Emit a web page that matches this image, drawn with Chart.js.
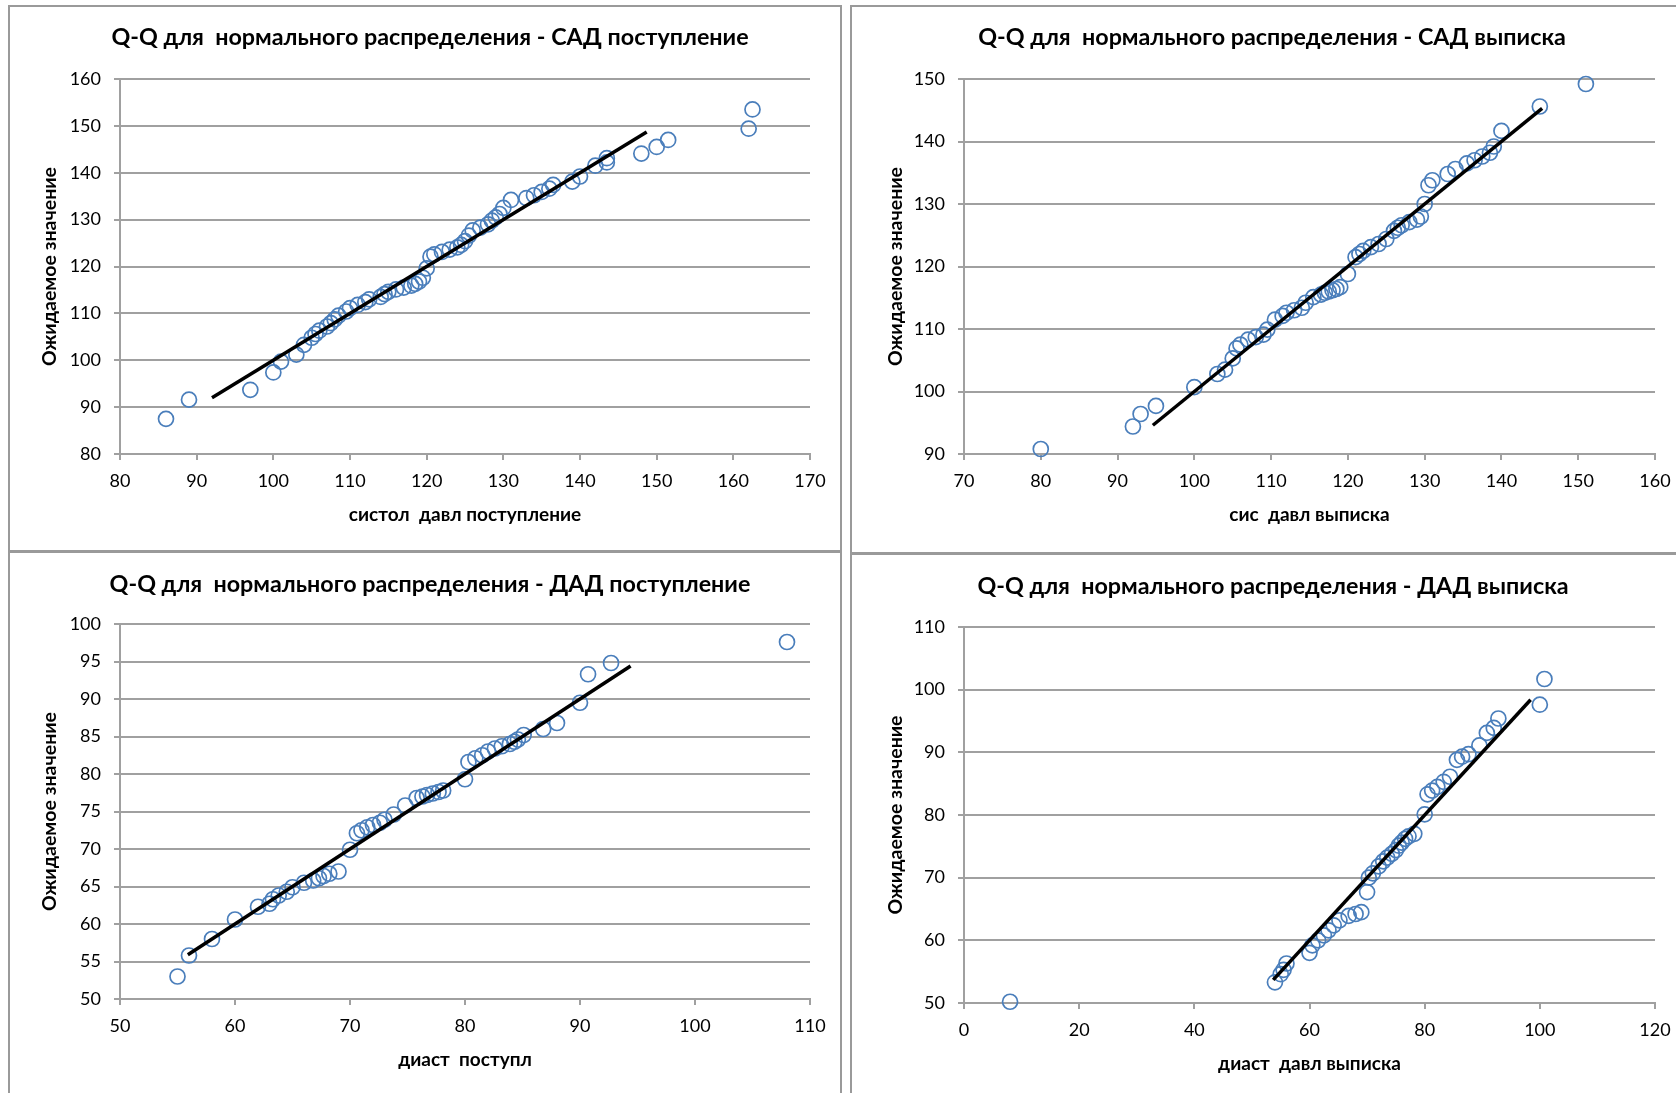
<!DOCTYPE html>
<html>
<head>
<meta charset="utf-8">
<script src="https://cdn.jsdelivr.net/npm/chart.js@4.4.1/dist/chart.umd.min.js"></script>
<style>
  html, body { margin: 0; padding: 0; background: #fff; }
  body { position: relative; width: 1676px; height: 1093px; overflow: hidden; }
  .frame { position: absolute; border: 2px solid #9a9a9a; box-sizing: border-box; background: #fff; }
  canvas { position: absolute; }
</style>
</head>
<body>
<div class="frame" style="left:8px;top:5px;width:834px;height:547px"></div>
<div class="frame" style="left:850px;top:5px;width:840px;height:549px"></div>
<div class="frame" style="left:8px;top:551px;width:834px;height:600px"></div>
<div class="frame" style="left:850px;top:553px;width:840px;height:600px"></div>

<canvas id="sadIn" width="830" height="531" style="left:10px;top:3px"></canvas>
<canvas id="sadOut" width="831" height="531" style="left:854px;top:3px"></canvas>
<canvas id="dadIn" width="830" height="531" style="left:10px;top:548px"></canvas>
<canvas id="dadOut" width="831" height="532" style="left:854px;top:551px"></canvas>

<script>
// САД поступление: observed values (sorted) and expected normal quantiles
const sadInObserved = [86, 89, 97, 100, 101, 103, 104, 105, 105.5, 106, 107, 107.5, 108, 108.5, 109.5, 110, 111, 112, 112.5, 114, 114.5, 115, 116, 117, 118, 118.5, 119, 119.5, 120, 120.5, 121, 122, 123, 124, 124.5, 125, 125.5, 126, 127, 128, 128.5, 129, 129.5, 130, 131, 133, 134, 135, 136, 136.5, 139, 140, 142, 143.5, 143.5, 148, 150, 151.5, 162, 162.5];
const sadInExpected = [87.5, 91.6, 93.7, 97.4, 99.7, 101.2, 103.3, 104.8, 105.6, 106.3, 107.2, 107.9, 108.7, 109.5, 110.4, 111.1, 111.8, 112.4, 113.0, 113.5, 114.1, 114.6, 115.1, 115.5, 115.9, 116.3, 116.8, 117.6, 119.6, 122.1, 122.6, 123.1, 123.6, 124.1, 124.6, 125.4, 126.6, 127.7, 128.3, 129.0, 129.8, 130.5, 131.2, 132.5, 134.2, 134.6, 135.2, 135.9, 136.6, 137.4, 138.1, 139.2, 141.5, 142.2, 143.1, 144.1, 145.5, 147.0, 149.4, 153.5];
const sadInLine = [92, 148.7];

// САД выписка
const sadOutObserved = [80, 92, 93, 95, 100, 103, 104, 105, 105.5, 106, 107, 108, 109, 109.5, 110.5, 111.5, 112, 113, 114, 114.5, 115.5, 116.5, 117, 117.5, 118, 118.5, 119, 120, 121, 121.5, 122, 123, 124, 125, 126, 126.5, 127, 128, 129, 129.5, 130, 130.5, 131, 133, 134, 135.5, 136.5, 137.5, 138.5, 139, 140, 145, 151];
const sadOutExpected = [90.8, 94.4, 96.4, 97.7, 100.7, 102.8, 103.5, 105.3, 106.9, 107.5, 108.3, 108.7, 109.1, 109.9, 111.5, 112.1, 112.6, 113.0, 113.4, 114.2, 115.1, 115.5, 115.8, 116.0, 116.2, 116.4, 116.7, 118.8, 121.5, 122.0, 122.5, 123.1, 123.6, 124.4, 125.7, 126.2, 126.6, 127.1, 127.5, 128.0, 130.0, 133.0, 133.8, 134.8, 135.6, 136.5, 137.0, 137.6, 138.2, 139.2, 141.7, 145.6, 149.2];
const sadOutLine = [94.6, 145.3];

// ДАД поступление
const dadInObserved = [55, 56, 58, 60, 62, 63, 63.3, 63.8, 64.5, 65, 66, 66.8, 67.3, 67.7, 68.2, 69, 70, 70.6, 71, 71.5, 72, 72.6, 73, 73.8, 74.8, 75.8, 76.3, 76.7, 77.2, 77.7, 78.1, 80, 80.3, 80.9, 81.5, 82, 82.6, 83.2, 83.9, 84.3, 84.6, 85.1, 86.8, 88, 90, 90.7, 92.7, 108];
const dadInExpected = [53.0, 55.8, 58.0, 60.6, 62.3, 62.7, 63.3, 63.8, 64.3, 64.9, 65.5, 65.8, 66.1, 66.4, 66.7, 67.0, 69.9, 72.1, 72.5, 72.9, 73.2, 73.5, 73.9, 74.6, 75.8, 76.8, 77.0, 77.2, 77.4, 77.6, 77.8, 79.3, 81.6, 82.1, 82.5, 83.0, 83.4, 83.7, 84.0, 84.3, 84.6, 85.2, 86.0, 86.8, 89.5, 93.3, 94.8, 97.6];
const dadInLine = [55.9, 94.4];

// ДАД выписка
const dadOutObserved = [8, 54, 55, 55.5, 56, 60, 60.5, 61.5, 62.5, 63.3, 64.2, 65.2, 66.8, 68, 69, 70, 70.3, 71, 72, 72.8, 73.5, 74.3, 75, 75.5, 76, 76.6, 77.2, 78.2, 80, 80.5, 81.3, 82.2, 83.3, 84.4, 85.6, 86.5, 87.6, 89.5, 90.8, 92, 92.8, 100, 100.8];
const dadOutExpected = [50.2, 53.3, 54.6, 55.3, 56.3, 58.0, 59.2, 60.0, 60.8, 61.6, 62.4, 63.2, 63.9, 64.2, 64.5, 67.7, 70.0, 70.7, 71.8, 72.6, 73.2, 73.8, 74.4, 75.1, 75.6, 76.2, 76.6, 77.0, 80.1, 83.3, 83.9, 84.5, 85.3, 86.1, 88.8, 89.3, 89.7, 91.1, 93.1, 93.9, 95.4, 97.6, 101.7];
const dadOutLine = [53.7, 98.4];

// axis ranges: [min, max, step]
const sadInXRange = [80, 170, 10],  sadInYRange = [80, 160, 10];
const sadOutXRange = [70, 160, 10], sadOutYRange = [90, 150, 10];
const dadInXRange = [50, 110, 10],  dadInYRange = [50, 100, 5];
const dadOutXRange = [0, 120, 20],  dadOutYRange = [50, 110, 10];

const FONT = "Lato, 'Liberation Sans', sans-serif";
const GRID = '#a0a0a0';
const TITLE_SIZE = 23.3;
const X_TITLE_SIZE = 19;
const Y_TITLE_SIZE = 19.5;
const LEFT_SPACE = 110;   // canvas edge to plot area
const TOP_SPACE = 76;
const BOTTOM_SPACE = 80;

function pairs(xs, ys) {
  return xs.map((x, i) => ({ x: x, y: ys[i] }));
}

function qqChart(id, p) {
  const titleTop = p.titleCenter - TITLE_SIZE * 0.6;
  const titleBottom = TOP_SPACE - TITLE_SIZE * 1.2 - titleTop;
  return new Chart(document.getElementById(id), {
    type: 'scatter',
    data: {
      datasets: [
        {
          type: 'line',
          data: pairs(p.line, p.line),
          borderColor: '#000',
          borderWidth: 3.5,
          pointRadius: 0,
          fill: false,
          order: 0
        },
        {
          data: pairs(p.observed, p.expected),
          pointStyle: 'circle',
          pointRadius: 7.5,
          pointBorderWidth: 1.7,
          pointBorderColor: '#4a7ebb',
          pointBackgroundColor: 'rgba(0,0,0,0)',
          borderColor: '#4a7ebb',
          backgroundColor: 'rgba(0,0,0,0)',
          order: 1,
          clip: false
        }
      ]
    },
    options: {
      responsive: false,
      animation: false,
      devicePixelRatio: 1,
      layout: { padding: { left: p.padLeft, top: 0, right: 30, bottom: 0 } },
      plugins: {
        legend: { display: false },
        tooltip: { enabled: false },
        title: {
          display: true,
          text: p.title,
          color: '#000',
          font: { family: FONT, size: TITLE_SIZE, weight: 'bold', lineHeight: 1.2 },
          padding: { top: titleTop, bottom: titleBottom }
        }
      },
      scales: {
        x: {
          type: 'linear',
          position: 'bottom',
          min: p.xRange[0], max: p.xRange[1],
          afterFit: s => { s.height = BOTTOM_SPACE; },
          ticks: { stepSize: p.xRange[2], color: '#000', padding: 10, font: { family: FONT, size: 18 } },
          grid: { display: true, drawOnChartArea: false, drawTicks: true, tickLength: 6, color: GRID, lineWidth: 2 },
          border: { display: true, color: GRID, width: 2 },
          title: {
            display: true, text: p.xTitle, color: '#000',
            font: { family: FONT, size: X_TITLE_SIZE, weight: 'bold', lineHeight: 1.2 },
            padding: { top: 0, bottom: 19 - X_TITLE_SIZE * 0.6 }
          }
        },
        y: {
          type: 'linear',
          position: 'left',
          min: p.yRange[0], max: p.yRange[1],
          afterFit: s => { s.width = LEFT_SPACE - p.padLeft; },
          ticks: { stepSize: p.yRange[2], color: '#000', padding: 13, font: { family: FONT, size: 18 } },
          grid: { display: true, drawOnChartArea: true, drawTicks: true, tickLength: 6, color: GRID, lineWidth: 2 },
          border: { display: true, color: GRID, width: 2 },
          title: {
            display: true, text: 'Ожидаемое значение', color: '#000',
            font: { family: FONT, size: Y_TITLE_SIZE, weight: 'bold', lineHeight: 1.2 },
            padding: { top: p.yTitleCenter - p.padLeft - Y_TITLE_SIZE * 0.6, bottom: 0 }
          }
        }
      }
    }
  });
}

qqChart('sadIn', {
  title: 'Q-Q для  нормального распределения - САД поступление',
  xTitle: 'систол  давл поступление',
  observed: sadInObserved, expected: sadInExpected, line: sadInLine,
  xRange: sadInXRange, yRange: sadInYRange,
  titleCenter: 34.5, padLeft: 40, yTitleCenter: 40
});
qqChart('sadOut', {
  title: 'Q-Q для  нормального распределения - САД выписка',
  xTitle: 'сис  давл выписка',
  observed: sadOutObserved, expected: sadOutExpected, line: sadOutLine,
  xRange: sadOutXRange, yRange: sadOutYRange,
  titleCenter: 34.5, padLeft: 35, yTitleCenter: 42
});
qqChart('dadIn', {
  title: 'Q-Q для  нормального распределения - ДАД поступление',
  xTitle: 'диаст  поступл',
  observed: dadInObserved, expected: dadInExpected, line: dadInLine,
  xRange: dadInXRange, yRange: dadInYRange,
  titleCenter: 36.5, padLeft: 40, yTitleCenter: 40
});
qqChart('dadOut', {
  title: 'Q-Q для  нормального распределения - ДАД выписка',
  xTitle: 'диаст  давл выписка',
  observed: dadOutObserved, expected: dadOutExpected, line: dadOutLine,
  xRange: dadOutXRange, yRange: dadOutYRange,
  titleCenter: 35.5, padLeft: 37, yTitleCenter: 42
});
</script>
</body>
</html>
